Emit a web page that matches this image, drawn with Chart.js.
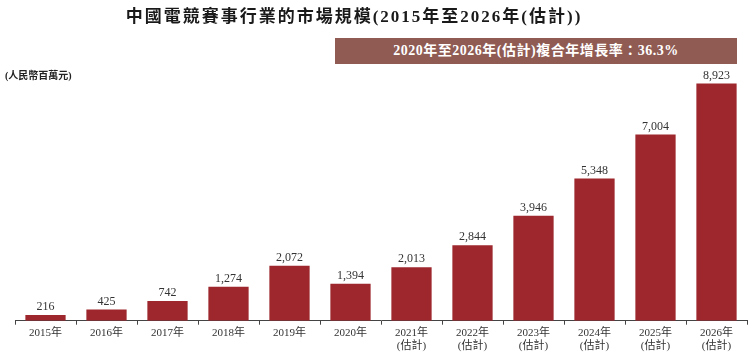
<!DOCTYPE html>
<html>
<head>
<meta charset="utf-8">
<script src="https://cdn.jsdelivr.net/npm/chart.js@4"></script>
<style>
  body { margin: 0; background: #fff; }
  #wrap { position: relative; width: 752px; height: 354px; }
  #c { position: absolute; left: 0; top: 0; }
  .title { position: absolute; left: 0; width: 708px; top: 2px; text-align: center;
    font: bold 17px "Liberation Serif", "Noto Sans CJK TC", serif; color: #1a1a1a; letter-spacing: 2px; }
  .banner { position: absolute; left: 335px; top: 38px; width: 402px; height: 26px; background: #8f5b53;
    color: #fff; font: bold 14px "Liberation Serif", "Noto Sans CJK TC", serif; text-align: center; line-height: 26px; letter-spacing: 0.5px; }
  .unit { position: absolute; left: 5px; top: 67px; font: bold 10px "Liberation Serif", "Noto Sans CJK TC", serif; color: #222; }
</style>
</head>
<body>
<div id="wrap">
  <canvas id="c" width="752" height="354"></canvas>
  <div class="title">中國電競賽事行業的市場規模(2015年至2026年(估計))</div>
  <div class="banner">2020年至2026年(估計)複合年增長率：36.3%</div>
  <div class="unit">(人民幣百萬元)</div>
</div>
<script>
const years = ['2015年','2016年','2017年','2018年','2019年','2020年',
  ['2021年','(估計)'],['2022年','(估計)'],['2023年','(估計)'],['2024年','(估計)'],['2025年','(估計)'],['2026年','(估計)']]
const marketSize = [216, 425, 742, 1274, 2072, 1394, 2013, 2844, 3946, 5348, 7004, 8923]

const valueLabels = {
  id: 'valueLabels',
  afterDatasetsDraw(chart) {
    const ctx = chart.ctx
    const meta = chart.getDatasetMeta(0)
    ctx.save()
    ctx.font = '12px "Liberation Serif", serif'
    ctx.fillStyle = '#333'
    ctx.textAlign = 'center'
    ctx.textBaseline = 'bottom'
    meta.data.forEach((bar, i) => {
      ctx.fillText(marketSize[i].toLocaleString('en-US'), bar.x, bar.y - 2)
    })
    ctx.restore()
  }
}

new Chart(document.getElementById('c'), {
  type: 'bar',
  data: {
    labels: years,
    datasets: [{
      data: marketSize,
      backgroundColor: '#9e272d',
      categoryPercentage: 1,
      barPercentage: 0.66
    }]
  },
  options: {
    responsive: false,
    animation: false,
    layout: { padding: { left: 15, right: 5, top: 55, bottom: 0 } },
    plugins: { legend: { display: false }, tooltip: { enabled: false } },
    scales: {
      y: { display: false, min: 0, max: 10000 },
      x: {
        grid: { display: true, drawOnChartArea: false, offset: true, tickLength: 4, color: '#444' },
        border: { display: true, color: '#444', width: 1 },
        ticks: { color: '#333', padding: 2, maxRotation: 0, autoSkip: false,
          font: { family: '"Liberation Serif", "Noto Sans CJK TC", serif', size: 11, lineHeight: 1.15 } }
      }
    }
  },
  plugins: [valueLabels]
})
</script>
</body>
</html>
